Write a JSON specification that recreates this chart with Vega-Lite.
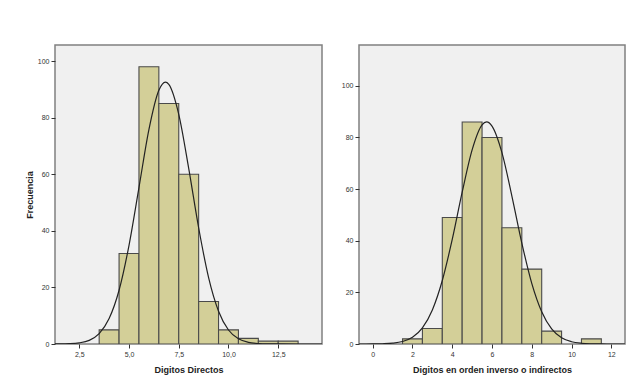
{
  "$schema": "https://vega.github.io/schema/vega-lite/v6.json",
  "padding": {"left": 24, "top": 44, "right": 10, "bottom": 5},
  "background": "white",
  "datasets": {
    "barsL": [
      {"x0": 3.5, "x1": 4.5, "n": 5},
      {"x0": 4.5, "x1": 5.5, "n": 32},
      {"x0": 5.5, "x1": 6.5, "n": 98},
      {"x0": 6.5, "x1": 7.5, "n": 85},
      {"x0": 7.5, "x1": 8.5, "n": 60},
      {"x0": 8.5, "x1": 9.5, "n": 15},
      {"x0": 9.5, "x1": 10.5, "n": 5},
      {"x0": 10.5, "x1": 11.5, "n": 2},
      {"x0": 11.5, "x1": 12.5, "n": 1},
      {"x0": 12.5, "x1": 13.5, "n": 1}
    ],
    "curveL": [
      {"x": 1.28, "f": 0.01}, {"x": 1.5, "f": 0.02}, {"x": 2.0, "f": 0.1}, {"x": 2.5, "f": 0.39},
      {"x": 3.0, "f": 1.29}, {"x": 3.5, "f": 3.66}, {"x": 4.0, "f": 8.98}, {"x": 4.5, "f": 19.0},
      {"x": 5.0, "f": 34.9}, {"x": 5.5, "f": 55.3}, {"x": 6.0, "f": 75.8}, {"x": 6.5, "f": 89.7},
      {"x": 6.83, "f": 92.6}, {"x": 7.0, "f": 91.8}, {"x": 7.5, "f": 81.2}, {"x": 8.0, "f": 62.1},
      {"x": 8.5, "f": 41.1}, {"x": 9.0, "f": 23.5}, {"x": 9.5, "f": 11.6}, {"x": 10.0, "f": 4.95},
      {"x": 10.5, "f": 1.83}, {"x": 11.0, "f": 0.58}, {"x": 11.5, "f": 0.16}, {"x": 12.0, "f": 0.04},
      {"x": 12.5, "f": 0.01}, {"x": 13.5, "f": 0}, {"x": 14.7, "f": 0}
    ],
    "barsR": [
      {"x0": 1.5, "x1": 2.5, "n": 2},
      {"x0": 2.5, "x1": 3.5, "n": 6},
      {"x0": 3.5, "x1": 4.5, "n": 49},
      {"x0": 4.5, "x1": 5.5, "n": 86},
      {"x0": 5.5, "x1": 6.5, "n": 80},
      {"x0": 6.5, "x1": 7.5, "n": 45},
      {"x0": 7.5, "x1": 8.5, "n": 29},
      {"x0": 8.5, "x1": 9.5, "n": 5},
      {"x0": 10.5, "x1": 11.5, "n": 2}
    ],
    "curveR": [
      {"x": -0.69, "f": 0}, {"x": 0.0, "f": 0.02}, {"x": 0.5, "f": 0.09}, {"x": 1.0, "f": 0.31},
      {"x": 1.5, "f": 0.96}, {"x": 2.0, "f": 2.6}, {"x": 2.5, "f": 6.24}, {"x": 3.0, "f": 13.2},
      {"x": 3.5, "f": 24.6}, {"x": 4.0, "f": 40.5}, {"x": 4.5, "f": 58.8}, {"x": 5.0, "f": 75.2},
      {"x": 5.5, "f": 84.9}, {"x": 5.73, "f": 86.0}, {"x": 6.0, "f": 84.4}, {"x": 6.5, "f": 74.1},
      {"x": 7.0, "f": 57.3}, {"x": 7.5, "f": 39.1}, {"x": 8.0, "f": 23.5}, {"x": 8.5, "f": 12.5},
      {"x": 9.0, "f": 5.84}, {"x": 9.5, "f": 2.41}, {"x": 10.0, "f": 0.88}, {"x": 10.5, "f": 0.28},
      {"x": 11.0, "f": 0.08}, {"x": 11.5, "f": 0.02}, {"x": 12.0, "f": 0}, {"x": 12.69, "f": 0}
    ]
  },
  "config": {
    "view": {"fill": "#F0F0F0", "stroke": "#808080", "strokeWidth": 1.5},
    "axis": {
      "labelFont": "Liberation Sans", "labelFontSize": 7, "labelColor": "#333",
      "tickColor": "#333", "tickSize": 4, "labelPadding": 2,
      "domain": false, "grid": false,
      "titleFont": "Liberation Sans", "titleFontSize": 9, "titleFontWeight": "bold", "titleColor": "#222"
    },
    "concat": {"spacing": 17}
  },
  "hconcat": [
    {
      "width": 267, "height": 299,
      "layer": [
        {
          "data": {"name": "barsL"},
          "mark": {"type": "bar", "fill": "#D3CF98", "stroke": "#4a4a4a", "strokeWidth": 1.1, "clip": true},
          "encoding": {
            "x": {"field": "x0", "type": "quantitative",
                  "scale": {"domain": [1.28, 14.7], "nice": false, "zero": false},
                  "axis": {"values": [2.5, 5, 7.5, 10, 12.5], "labelExpr": "replace(format(datum.value,'.1f'),'.',',')", "title": "Digitos Directos", "titlePadding": 8}},
            "x2": {"field": "x1"},
            "y": {"field": "n", "type": "quantitative",
                  "scale": {"domain": [0, 105.7], "nice": false},
                  "axis": {"values": [0, 20, 40, 60, 80, 100], "title": "Frecuencia", "titlePadding": 3}},
            "y2": {"datum": 0}
          }
        },
        {
          "data": {"name": "curveL"},
          "mark": {"type": "line", "interpolate": "monotone", "color": "#222222", "strokeWidth": 1.2, "clip": true},
          "encoding": {
            "x": {"field": "x", "type": "quantitative"},
            "y": {"field": "f", "type": "quantitative"}
          }
        }
      ]
    },
    {
      "width": 266, "height": 299,
      "layer": [
        {
          "data": {"name": "barsR"},
          "mark": {"type": "bar", "fill": "#D3CF98", "stroke": "#4a4a4a", "strokeWidth": 1.1, "clip": true},
          "encoding": {
            "x": {"field": "x0", "type": "quantitative",
                  "scale": {"domain": [-0.69, 12.69], "nice": false, "zero": false},
                  "axis": {"values": [0, 2, 4, 6, 8, 10, 12], "format": "d", "title": "Digitos en orden inverso o indirectos", "titlePadding": 8}},
            "x2": {"field": "x1"},
            "y": {"field": "n", "type": "quantitative",
                  "scale": {"domain": [0, 115.8], "nice": false},
                  "axis": {"values": [0, 20, 40, 60, 80, 100], "title": null}},
            "y2": {"datum": 0}
          }
        },
        {
          "data": {"name": "curveR"},
          "mark": {"type": "line", "interpolate": "monotone", "color": "#222222", "strokeWidth": 1.2, "clip": true},
          "encoding": {
            "x": {"field": "x", "type": "quantitative"},
            "y": {"field": "f", "type": "quantitative"}
          }
        }
      ]
    }
  ]
}
